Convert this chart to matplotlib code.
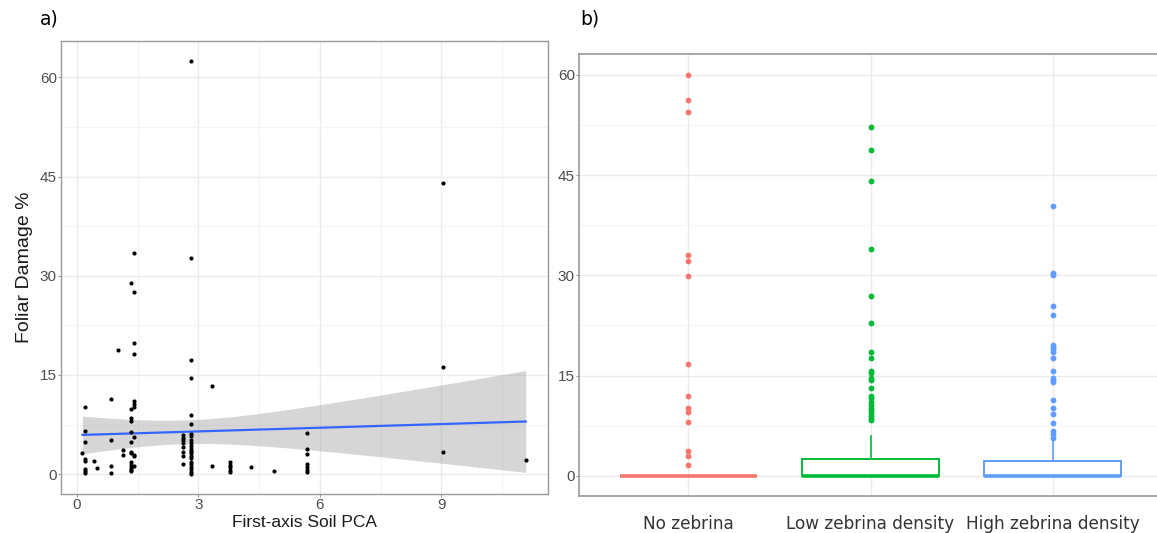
import numpy as np
import matplotlib
matplotlib.use("Agg")
import matplotlib.pyplot as plt
from matplotlib.ticker import MultipleLocator

# ---------------- Panel a data ----------------
pca_x = [0.14,
         0.2, 0.2, 0.2, 0.2, 0.2, 0.2, 0.2, 0.2,
         0.43, 0.49,
         0.85, 0.85, 0.85, 0.85,
         1.02,
         1.14, 1.14,
         1.35, 1.35, 1.35, 1.35, 1.35, 1.35, 1.35, 1.35, 1.35, 1.35, 1.35, 1.35, 1.35,
         1.41, 1.41, 1.41, 1.41, 1.41, 1.41, 1.41, 1.41, 1.41, 1.41, 1.41,
         2.62, 2.62, 2.62, 2.62, 2.62, 2.62, 2.62, 2.62,
         2.81, 2.81, 2.81, 2.81, 2.81, 2.81, 2.81, 2.81, 2.81, 2.81, 2.81,
         2.81, 2.81, 2.81, 2.81, 2.81, 2.81, 2.81, 2.81, 2.81, 2.81, 2.81,
         3.33, 3.33,
         3.77, 3.77, 3.77, 3.77, 3.77,
         4.31, 4.87,
         5.67, 5.67, 5.67, 5.67, 5.67, 5.67, 5.67,
         9.03, 9.03, 9.03,
         11.08]
damage = [3.2,
          10.1, 6.55, 4.8, 2.3, 2.0, 0.76, 0.5, 0.24,
          2.0, 0.9,
          11.3, 5.1, 1.25, 0.24,
          18.7,
          3.6, 2.9,
          28.9, 9.9, 8.5, 8.1, 6.35, 4.9, 3.4, 3.2, 1.8, 1.4, 0.9, 0.7, 0.5,
          33.5, 27.5, 19.9, 18.1, 11.0, 10.6, 10.1, 5.6, 2.9, 2.7, 1.3,
          5.9, 5.5, 5.1, 4.7, 4.1, 3.4, 2.8, 1.5,
          62.5, 32.7, 17.3, 14.6, 8.9, 7.6, 6.05, 5.7, 5.2, 4.7, 4.2,
          3.8, 3.5, 3.2, 2.8, 2.4, 1.9, 1.5, 1.15, 0.76, 0.4, 0.0,
          13.4, 1.3,
          1.9, 1.4, 1.05, 0.65, 0.35,
          1.05, 0.55,
          6.15, 3.8, 3.05, 1.6, 1.05, 0.65, 0.3,
          44.1, 16.2, 3.3,
          2.2]

# linear fit and its 95% band
fit_intercept = 5.91
fit_slope = 0.185
ci_center = 2.63      # x where the band is narrowest
ci_a = 3.22           # squared half-width at ci_center
ci_b = 0.785          # growth of squared half-width with (x - ci_center)^2

# ---------------- Panel b data ----------------
groups = ["No zebrina", "Low zebrina density", "High zebrina density"]
group_colors = ["#F8766D", "#00BA38", "#619CFF"]
q1 = [0.0, 0.0, 0.0]
medians = [0.0, 0.0, 0.0]
q3 = [0.0, 2.55, 2.2]
whisker_lo = [0.0, 0.0, 0.0]
whisker_hi = [0.0, 6.0, 5.4]
outliers_no = [60.0, 56.2, 54.5, 33.0, 32.2, 29.9, 16.8, 12.0, 10.2, 9.5, 8.0, 3.8, 3.0, 1.7]
outliers_low = [52.2, 48.7, 44.1, 33.9, 26.9, 22.9, 18.6, 17.6, 15.7, 15.4, 14.7, 14.4, 13.1,
                12.0, 11.6, 11.1, 10.6, 10.2, 9.8, 9.4, 9.0, 8.6, 8.3]
outliers_high = [40.3, 30.4, 30.0, 25.4, 24.1, 19.6, 19.3, 19.0, 18.6, 17.6, 15.7, 14.6, 14.4,
                 14.0, 11.35, 10.2, 9.25, 7.85, 6.7, 6.25, 5.65]
outliers = [outliers_no, outliers_low, outliers_high]

y_ticks = [0, 15, 30, 45, 60]
x_ticks_a = [0, 3, 6, 9]

fig = plt.figure(figsize=(11.57, 5.33), dpi=100)

grid_major = "#EBEBEB"
grid_minor = "#F4F4F4"
tick_col = "#4D4D4D"

# ---------------- Panel a ----------------
ax = fig.add_axes([61 / 1157, 1 - 494 / 533, (548 - 61) / 1157, (494 - 41) / 533])
xa = np.array(pca_x)
ya = np.array(damage)
xs = np.linspace(xa.min(), xa.max(), 200)
yhat = fit_intercept + fit_slope * xs
half = np.sqrt(ci_a + ci_b * (xs - ci_center) ** 2)
ax.fill_between(xs, yhat - half, yhat + half, color="#999999", alpha=0.4, lw=0, zorder=2)
ax.plot(xs, yhat, color="#3366FF", lw=1.6, zorder=3)
ax.scatter(xa, ya, s=9, color="black", zorder=4, lw=0)

ax.set_xlim(-0.39, 11.63)
ax.set_ylim(-3.0, 65.5)
ax.set_xticks(x_ticks_a)
ax.set_yticks(y_ticks)
ax.xaxis.set_minor_locator(MultipleLocator(1.5))
ax.yaxis.set_minor_locator(MultipleLocator(7.5))
ax.grid(True, which="major", color=grid_major, lw=1.0, zorder=0)
ax.grid(True, which="minor", color=grid_minor, lw=0.8, zorder=0)
ax.set_axisbelow(True)
for sp in ax.spines.values():
    sp.set_color("#9A9A9A")
    sp.set_linewidth(1.0)
ax.tick_params(which="major", length=2, color="#9A9A9A", labelcolor=tick_col, labelsize=11, pad=1)
ax.tick_params(which="minor", length=0)
for lab in ax.get_xticklabels() + ax.get_yticklabels():
    lab.set_fontfamily("Liberation Sans")
ax.set_xlabel("First-axis Soil PCA", fontsize=12.5, family="Liberation Sans", color="#1A1A1A", labelpad=2)
ax.set_ylabel("Foliar Damage %", fontsize=14, family="Liberation Sans", color="#1A1A1A", labelpad=5)
fig.text(40 / 1157, 1 - 19 / 533, "a)", fontsize=13.5, family="DejaVu Sans", va="center", ha="left")

# ---------------- Panel b ----------------
bx = fig.add_axes([579 / 1157, 1 - 496 / 533, (1162 - 579) / 1157, (496 - 54) / 533])
stats = []
for i, g in enumerate(groups):
    stats.append(dict(label=g, q1=q1[i], med=medians[i], q3=q3[i],
                      whislo=whisker_lo[i], whishi=whisker_hi[i], fliers=outliers[i]))
positions = [1, 2, 3]
bp = bx.bxp(stats, positions=positions, widths=0.75, showcaps=False, patch_artist=True,
            manage_ticks=False)
for i, c in enumerate(group_colors):
    bp["boxes"][i].set(facecolor="white", edgecolor=c, lw=1.4, zorder=3)
    bp["medians"][i].set(color=c, lw=2.6, zorder=4, solid_capstyle="butt")
    for w in bp["whiskers"][2 * i:2 * i + 2]:
        w.set(color=c, lw=1.2, zorder=2)
    bp["fliers"][i].set(marker="o", markerfacecolor=c, markeredgecolor=c, markersize=4.2,
                        markeredgewidth=0, zorder=5)

bx.set_xlim(0.4, 3.6)
bx.set_ylim(-3.0, 63.1)
bx.set_xticks(positions)
bx.set_xticklabels(groups, fontsize=12.2, family="DejaVu Sans", color="#333333")
bx.set_yticks(y_ticks)
bx.yaxis.set_minor_locator(MultipleLocator(7.5))
bx.grid(True, which="major", color=grid_major, lw=1.0, zorder=0)
bx.yaxis.grid(True, which="minor", color=grid_minor, lw=0.8, zorder=0)
bx.set_axisbelow(True)
for lab in bx.get_yticklabels():
    lab.set_fontfamily("Liberation Sans")
bx.tick_params(axis="y", which="major", length=2, color="#9A9A9A", labelcolor=tick_col,
               labelsize=11, pad=1)
bx.tick_params(axis="x", which="major", length=0, pad=14)
bx.tick_params(which="minor", length=0)
bx.spines["right"].set_visible(False)
for k in ["left", "top", "bottom"]:
    bx.spines[k].set_color("#9A9A9A")
    bx.spines[k].set_linewidth(1.2)
fig.text(580 / 1157, 1 - 19 / 533, "b)", fontsize=13.5, family="DejaVu Sans", va="center", ha="left")

fig.savefig("out.png", dpi=100)
